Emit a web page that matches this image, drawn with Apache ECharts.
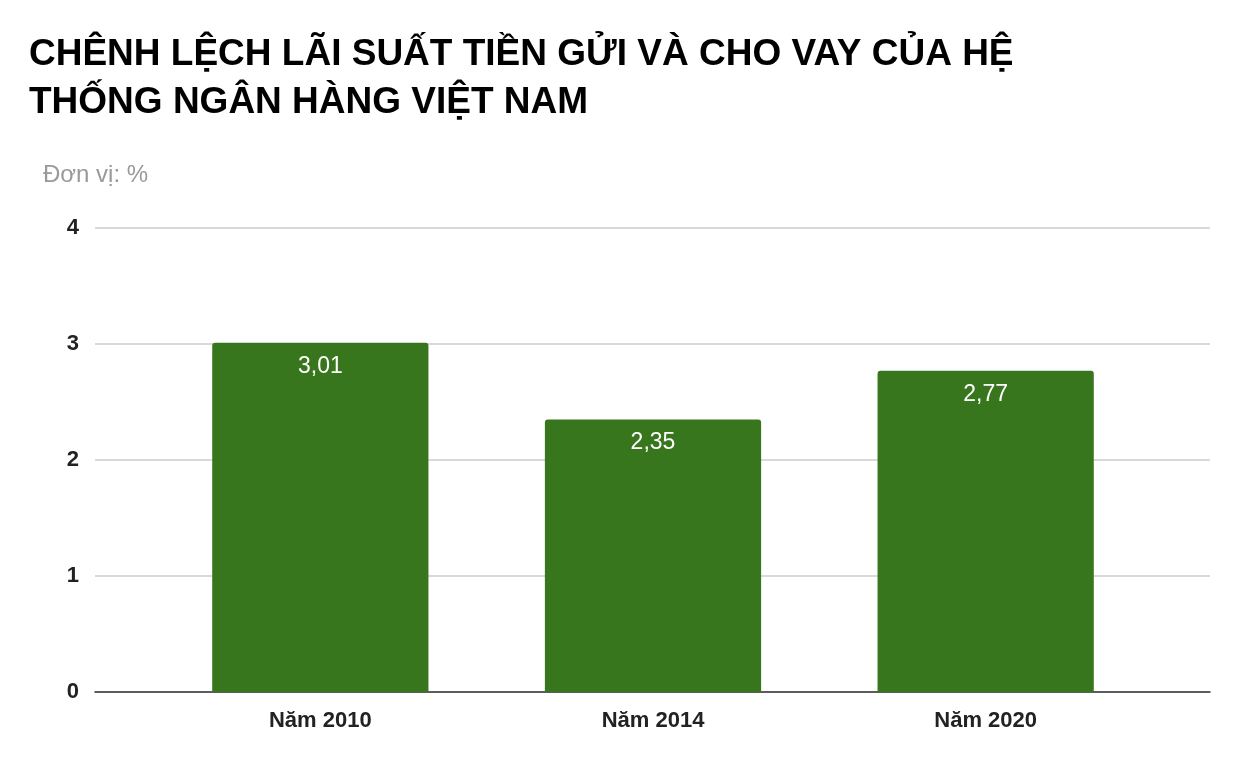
<!DOCTYPE html>
<html><head><meta charset="utf-8">
<script src="https://cdn.jsdelivr.net/npm/echarts@6/dist/echarts.min.js"></script>
<style>html,body{margin:0;padding:0;background:#fff}#c{width:1250px;height:773px}</style>
</head><body><div id="c"></div>
<script>
const categories = ['Năm 2010', 'Năm 2014', 'Năm 2020'];
const values = [3.01, 2.35, 2.77];
const labels = ['3,01', '2,35', '2,77'];
const F = "'Liberation Sans', Arial, sans-serif";
const chart = echarts.init(document.getElementById('c'));
chart.setOption({
  backgroundColor: '#fff',
  textStyle: { fontFamily: F },
  title: [
    { text: 'CHÊNH LỆCH LÃI SUẤT TIỀN GỬI VÀ CHO VAY CỦA HỆ\nTHỐNG NGÂN HÀNG VIỆT NAM', left: 24, top: 26,
      textStyle: { fontSize: 37, fontWeight: 'bold', color: '#000', lineHeight: 48, fontFamily: F } },
    { text: 'Đơn vị: %', left: 38, top: 158,
      textStyle: { fontSize: 24, fontWeight: 'normal', color: '#999', fontFamily: F } }
  ],
  grid: [
    { left: 95, right: 40, top: 228, bottom: 81 },
    { left: 154, right: 98, top: 228, bottom: 81 }
  ],
  xAxis: [
    { gridIndex: 0, type: 'value', min: 0, max: 1, axisLabel: { show: false }, splitLine: { show: false },
      axisTick: { show: false }, axisLine: { show: true, lineStyle: { color: '#333', width: 1.5 } } },
    { gridIndex: 1, type: 'category', data: categories,
      axisLine: { show: false }, axisTick: { show: false },
      axisLabel: { fontSize: 22, fontWeight: 'bold', color: '#222', margin: 18, fontFamily: F } }
  ],
  yAxis: [
    { gridIndex: 0, type: 'value', min: 0, max: 4, interval: 1,
      axisLine: { show: false }, axisTick: { show: false },
      splitLine: { lineStyle: { color: '#ccc', width: 1.5 } },
      axisLabel: { fontSize: 22, fontWeight: 'bold', color: '#222', margin: 16, fontFamily: F } },
    { gridIndex: 1, type: 'value', min: 0, max: 4, interval: 1, show: false, splitLine: { show: false } }
  ],
  series: [{
    type: 'bar', xAxisIndex: 1, yAxisIndex: 1, data: values, barWidth: '65%',
    itemStyle: { color: '#38761d', borderRadius: [3, 3, 0, 0] },
    label: { show: true, position: 'insideTop', distance: 12, color: '#fff', fontSize: 23, fontFamily: F,
      formatter: p => labels[p.dataIndex] }
  }]
});
</script></body></html>
